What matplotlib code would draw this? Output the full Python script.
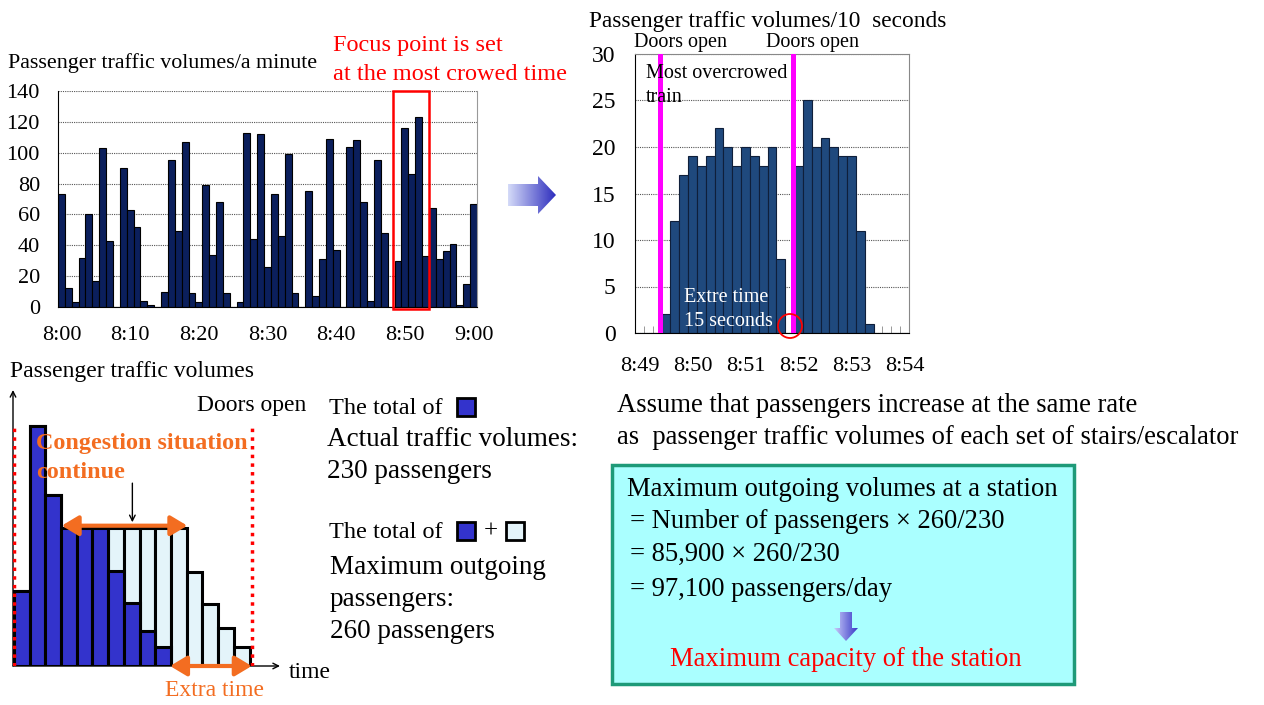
import numpy as np
import matplotlib.pyplot as plt
from matplotlib.patches import Rectangle, Polygon, Circle
from matplotlib.colors import LinearSegmentedColormap

plt.rcParams['font.family'] = ['Liberation Serif', 'DejaVu Serif']

W, H = 1264, 705

# passengers per minute, 8:00 - 9:00
minute_labels = ['8:00', '8:10', '8:20', '8:30', '8:40', '8:50', '9:00']
per_minute = [73, 12, 3, 32, 60, 17, 103, 43, 0, 90,
              63, 52, 4, 1, 0, 10, 95, 49, 107, 9,
              3, 79, 34, 68, 9, 0, 3, 113, 44, 112,
              26, 73, 46, 99, 9, 0, 75, 7, 31, 109,
              37, 0, 104, 108, 68, 4, 95, 48, 0, 30,
              116, 86, 123, 33, 64, 31, 36, 41, 1, 15, 67]
focus_minutes = (49, 53)

# passengers per 10 seconds, 8:49 - 8:54
tens_labels = ['8:49', '8:50', '8:51', '8:52', '8:53', '8:54']
per_10s = [0, 0, 0, 2, 12, 17, 19, 18, 19, 22, 20, 18, 20, 19, 18, 20, 8,
           0, 18, 25, 20, 21, 20, 19, 19, 11, 1, 0, 0, 0, 0]
doors_open = [2.38, 17.43]

# schematic: actual flow and flow if congestion continued
actual = [3.26, 10.43, 7.43, 6, 6, 6, 4.13, 2.74, 1.52, 0.83, 0, 0, 0, 0, 0]
maximum = [3.26, 10.43, 7.43, 6, 6, 6, 6, 6, 6, 6, 6, 4.09, 2.7, 1.65, 0.83]

navy = '#0B1F5C'
steel = '#1F497D'
dark_blue = '#3333CC'
pale = '#E4F4FA'
orange = '#F36D21'


def px_axes(fig, left, top, right, bottom):
    return fig.add_axes([left / W, 1 - bottom / H, (right - left) / W, (bottom - top) / H])


fig = plt.figure(figsize=(W / 100, H / 100), dpi=100)

# ---- per minute chart
ax1 = px_axes(fig, 58, 91, 477, 307)
x1 = np.arange(len(per_minute))
ax1.bar(x1, per_minute, width=1.0, color=navy, edgecolor='black', linewidth=0.8)
ax1.set_xlim(-0.5, len(per_minute) - 0.5)
ax1.set_ylim(0, 140)
ax1.set_yticks(range(0, 141, 20))
ax1.set_xticks(x1[::10])
ax1.set_xticklabels(minute_labels)
ax1.set_axisbelow(True)
ax1.yaxis.grid(True, linestyle=(0, (1, 1)), color='#555555', lw=0.8)
ax1.tick_params(length=0, labelsize=16)
ax1.tick_params(axis='y', pad=13)
ax1.tick_params(axis='x', pad=14)
ax1.spines['top'].set_visible(False)
ax1.spines['right'].set_color('#999999')
ax1.add_patch(Rectangle((focus_minutes[0] - 0.7, -1), focus_minutes[1] - focus_minutes[0] + 1.25, 141,
                        fill=False, edgecolor='red', lw=1.8, clip_on=False, zorder=5))

# ---- per 10 seconds chart
ax2 = px_axes(fig, 635, 54, 909, 333)
x2 = np.arange(len(per_10s))
ax2.bar(x2, per_10s, width=1.0, color=steel, edgecolor='#0F1F3A', linewidth=0.8)
ax2.set_xlim(-0.5, len(per_10s) - 0.5)
ax2.set_ylim(0, 30)
ax2.set_yticks(range(0, 31, 5))
ax2.set_xticks(x2[::6])
ax2.set_xticklabels(tens_labels)
ax2.set_xticks(np.arange(-0.5, len(per_10s), 1), minor=True)
ax2.set_axisbelow(True)
ax2.yaxis.grid(True, linestyle=(0, (1, 1)), color='#555555', lw=0.8)
ax2.tick_params(which='major', length=0)
ax2.tick_params(which='minor', direction='in', length=5, color='#888888')
ax2.tick_params(axis='y', labelsize=17, pad=14)
ax2.tick_params(axis='x', labelsize=16, pad=17)
for s in ['top', 'right']:
    ax2.spines[s].set_color('#888888')
for xd in doors_open:
    ax2.axvline(xd, color='#FF00FF', lw=3.6, zorder=4)

# ---- schematic
ax3 = px_axes(fig, 13, 390, 280, 666)
xs = np.arange(len(actual)) + 0.56
ax3.bar(xs, maximum, width=1.0, color=pale, edgecolor='black', linewidth=2.2)
ax3.bar(xs, actual, width=1.0, color=dark_blue, edgecolor='black', linewidth=2.2)
ax3.set_xlim(0, 17)
ax3.set_ylim(0, 12)
ax3.axis('off')
ax3.annotate('', xy=(0, 1), xytext=(0, 0), xycoords='axes fraction',
             arrowprops=dict(arrowstyle='->', lw=1, color='black', shrinkA=0, shrinkB=0))
ax3.annotate('', xy=(1, 0), xytext=(0, 0), xycoords='axes fraction',
             arrowprops=dict(arrowstyle='->', lw=1, color='black', shrinkA=0, shrinkB=0))
ax3.vlines([0.05, 15.2], 0, 10.4, colors='red', linestyles=(0, (1, 1.5)), lw=2.5, zorder=4)
ax3.annotate('', xy=(3.1, 6.1), xytext=(11.1, 6.1),
             arrowprops=dict(arrowstyle='<|-|>,head_length=0.5,head_width=0.3', lw=3,
                             color=orange, shrinkA=0, shrinkB=0, mutation_scale=20))
ax3.annotate('', xy=(10.0, 0.0), xytext=(15.2, 0.0), annotation_clip=False,
             arrowprops=dict(arrowstyle='<|-|>,head_length=0.5,head_width=0.3', lw=3,
                             color=orange, shrinkA=0, shrinkB=0, mutation_scale=20))
ax3.annotate('', xy=(7.6, 6.25), xytext=(7.6, 7.95),
             arrowprops=dict(arrowstyle='->', lw=1, color='black', shrinkA=0, shrinkB=0))

# ---- text and shapes in pixel space
ov = fig.add_axes([0, 0, 1, 1])


def grad_arrow(pts, x0, x1, y0, y1, c0, c1):
    cmap = LinearSegmentedColormap.from_list('g', [c0, c1])
    im = ov.imshow(np.linspace(0, 1, 100).reshape(1, -1), cmap=cmap, aspect='auto',
                   extent=[x0, x1, y1, y0], zorder=3)
    poly = Polygon(pts, closed=True, fc='none', ec='none')
    ov.add_patch(poly)
    im.set_clip_path(poly)


grad_arrow([(508, 184), (538, 184), (538, 176), (556, 195), (538, 214), (538, 206), (508, 206)],
           508, 556, 176, 214, '#D4DAF8', '#2E2EBE')
grad_arrow([(840, 612), (852, 612), (852, 628), (858, 628), (846, 641), (834, 628), (840, 628)],
           834, 858, 612, 641, '#C8CCF8', '#3838C8')

ov.set_xlim(0, W)
ov.set_ylim(H, 0)
ov.axis('off')


def t(x, y, s, size, **kw):
    kw.setdefault('va', 'center')
    ov.text(x, y, s, fontsize=size, **kw)


t(8, 63, 'Passenger traffic volumes/a minute', 15.8)
t(333, 46, 'Focus point is set', 17.5, color='red')
t(333, 74, 'at the most crowed time', 17.5, color='red')

t(589, 22, 'Passenger traffic volumes/10  seconds', 16.8)
t(681, 43, 'Doors open', 14.5, ha='center')
t(813, 43, 'Doors open', 14.5, ha='center')
t(646, 73, 'Most overcrowed', 14.5)
t(646, 97, 'train', 14.5)
t(684, 298, 'Extre time', 14.5, color='white')
t(684, 321, '15 seconds', 14.5, color='white')
ov.add_patch(Circle((790, 326), 12, fill=False, ec='red', lw=1.3, zorder=6))

t(10, 371, 'Passenger traffic volumes', 17)
t(197, 405, 'Doors open', 17)
t(36, 443, 'Congestion situation', 17.4, color=orange, fontweight='bold')
t(36, 472, 'continue', 17.4, color=orange, fontweight='bold')
t(289, 672, 'time', 17)
t(165, 690, 'Extra time', 17, color=orange)

t(329, 408, 'The total of', 17.5)
t(327, 440, 'Actual traffic volumes:', 19.5)
t(327, 472, '230 passengers', 19.5)
t(329, 532, 'The total of', 17.5)
t(484, 532, '+', 18)
t(330, 567, 'Maximum outgoing', 19.5)
t(330, 599, 'passengers:', 19.5)
t(330, 632, '260 passengers', 19.5)
ov.add_patch(Rectangle((457, 398), 18, 18, fc=dark_blue, ec='black', lw=2))
ov.add_patch(Rectangle((457, 522), 18, 18, fc=dark_blue, ec='black', lw=2))
ov.add_patch(Rectangle((506, 522), 18, 18, fc=pale, ec='black', lw=2))

t(617, 405, 'Assume that passengers increase at the same rate', 19.2)
t(617, 438, 'as  passenger traffic volumes of each set of stairs/escalator', 19.2)

ov.add_patch(Rectangle((612, 465), 462, 219, fc='#AAFFFF', ec='#1E9A78', lw=2.5, zorder=1))
t(627, 490, 'Maximum outgoing volumes at a station', 19.2)
t(630, 522, '= Number of passengers \u00d7 260/230', 19.2)
t(630, 554, '= 85,900 \u00d7 260/230', 19.2)
t(630, 590, '= 97,100 passengers/day', 19.2)
t(846, 659, 'Maximum capacity of the station', 19.2, color='red', ha='center')

fig.savefig('out.png', dpi=100)
